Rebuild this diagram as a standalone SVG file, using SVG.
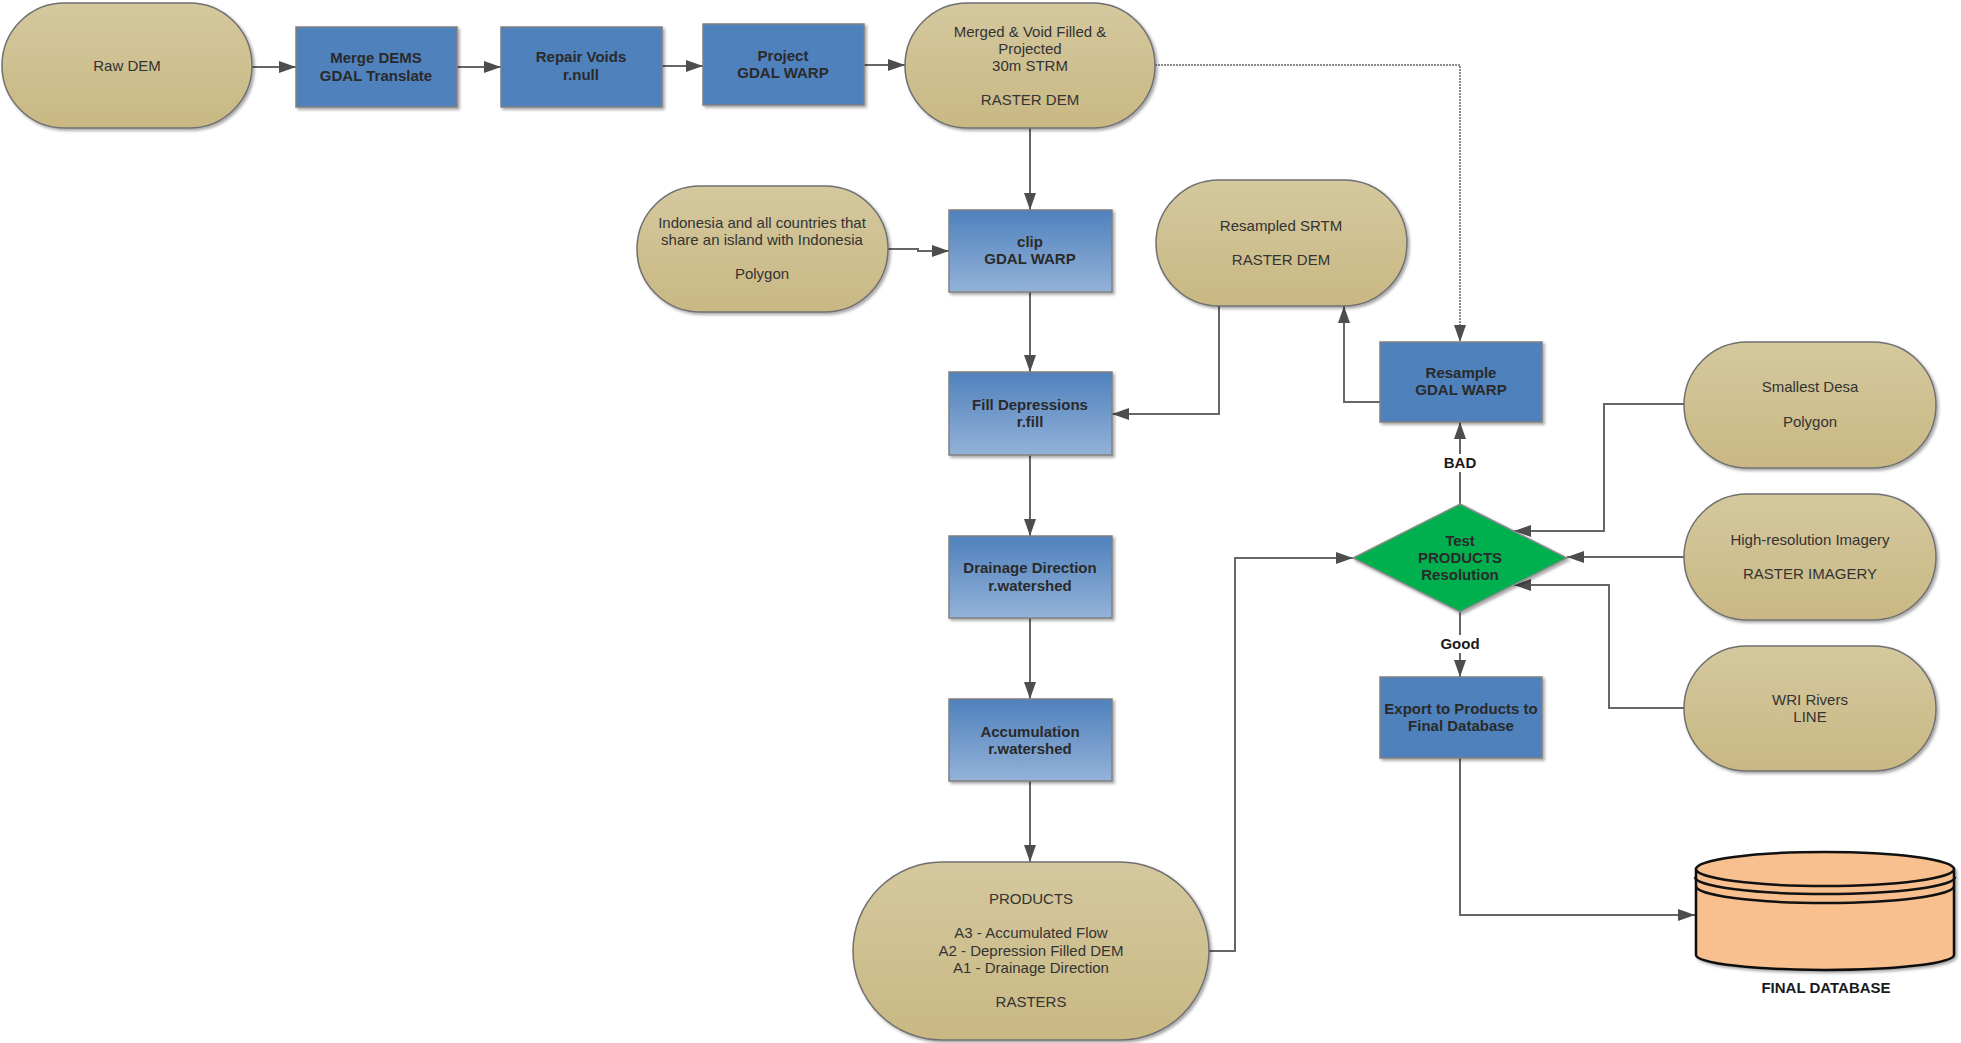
<svg xmlns="http://www.w3.org/2000/svg" width="1961" height="1043" viewBox="0 0 1961 1043">
<style>
.pill{fill:url(#tan);stroke:#707070;stroke-width:1.5;filter:url(#sh)}
.box{fill:#4f81bd;stroke:#808080;stroke-width:1.5;filter:url(#sh)}
.boxg{fill:url(#blueg);stroke:#808080;stroke-width:1.5;filter:url(#sh)}
.t{font-family:"Liberation Sans",Arial,sans-serif;font-size:15px;fill:#333;text-anchor:middle}
.b{font-weight:bold;fill:#2a2a2a}
.conn{fill:none;stroke:#666;stroke-width:2;marker-end:url(#arr)}
.dot{fill:none;stroke:#8c8c8c;stroke-width:2;stroke-dasharray:2 1;marker-end:url(#arr)}
.lbl{font-family:"Liberation Sans",Arial,sans-serif;font-size:15px;font-weight:bold;fill:#1a1a1a;text-anchor:middle}
</style>
<defs>
<linearGradient id="tan" x1="0" y1="0" x2="0" y2="1"><stop offset="0" stop-color="#d4c89e"/><stop offset="1" stop-color="#c9b883"/></linearGradient>
<linearGradient id="blueg" x1="0" y1="0" x2="0" y2="1"><stop offset="0" stop-color="#4f81bd"/><stop offset="1" stop-color="#93b2d8"/></linearGradient>
<filter id="sh" x="-10%" y="-10%" width="125%" height="130%"><feDropShadow dx="2" dy="2" stdDeviation="1.5" flood-color="#000" flood-opacity="0.35"/></filter>
<marker id="arr" viewBox="0 0 17 12" refX="17" refY="6" markerWidth="17" markerHeight="12" markerUnits="userSpaceOnUse" orient="auto"><path d="M0,0 L17,6 L0,12 z" fill="#4d4d4d"/></marker>
</defs>

<g id="connectors">
<path class="conn" d="M252,67 L296,67"/>
<path class="conn" d="M457,67 L501,67"/>
<path class="conn" d="M662,66 L703,66"/>
<path class="conn" d="M864,65 L905,65"/>
<path class="conn" d="M1030,128 L1030,210"/>
<path class="dot" d="M1155,65 L1460,65 L1460,342"/>
<path class="conn" d="M888,249 L918,249 L918,251 L949,251"/>
<path class="conn" d="M1030,292 L1030,372"/>
<path class="conn" d="M1219,306 L1219,414 L1112,414"/>
<path class="conn" d="M1380,402 L1344,402 L1344,306"/>
<path class="conn" d="M1030,455 L1030,536"/>
<path class="conn" d="M1030,618 L1030,699"/>
<path class="conn" d="M1030,781 L1030,862"/>
<path class="conn" d="M1209,951 L1235,951 L1235,558 L1353,558"/>
<path class="conn" d="M1460,504 L1460,422"/>
<path class="conn" d="M1460,612 L1460,677"/>
<path class="conn" d="M1684,404 L1604,404 L1604,531 L1514,531"/>
<path class="conn" d="M1684,557 L1567,557"/>
<path class="conn" d="M1684,708 L1609,708 L1609,585 L1514,585"/>
<path class="conn" d="M1460,758 L1460,915 L1695,915"/>
<rect x="1438" y="454" width="44" height="18" fill="#fff"/>
<text class="lbl" x="1460" y="468">BAD</text>
<rect x="1436" y="635" width="48" height="18" fill="#fff"/>
<text class="lbl" x="1460" y="649">Good</text>
</g>

<g id="raw-dem">
<rect class="pill" x="2" y="3" width="250" height="125" rx="62.5"/>
<text class="t" x="127" y="71">Raw DEM</text>
</g>
<g id="merge-dems">
<rect class="box" x="296" y="27" width="161" height="80"/>
<text class="t b" x="376" y="63">Merge DEMS</text>
<text class="t b" x="376" y="81">GDAL Translate</text>
</g>
<g id="repair-voids">
<rect class="box" x="501" y="27" width="161" height="80"/>
<text class="t b" x="581" y="62">Repair Voids</text>
<text class="t b" x="581" y="80">r.null</text>
</g>
<g id="project">
<rect class="box" x="703" y="24" width="161" height="81"/>
<text class="t b" x="783" y="61">Project</text>
<text class="t b" x="783" y="78">GDAL WARP</text>
</g>
<g id="merged-dem">
<rect class="pill" x="905" y="3" width="250" height="125" rx="62.5"/>
<text class="t" x="1030" y="37">Merged &amp; Void Filled &amp;</text>
<text class="t" x="1030" y="54">Projected</text>
<text class="t" x="1030" y="71">30m STRM</text>
<text class="t" x="1030" y="105">RASTER DEM</text>
</g>
<g id="indonesia">
<rect class="pill" x="637" y="186" width="251" height="126" rx="63"/>
<text class="t" x="762" y="228">Indonesia and all countries that</text>
<text class="t" x="762" y="245">share an island with Indonesia</text>
<text class="t" x="762" y="279">Polygon</text>
</g>
<g id="clip">
<rect class="boxg" x="949" y="210" width="163" height="82"/>
<text class="t b" x="1030" y="247">clip</text>
<text class="t b" x="1030" y="264">GDAL WARP</text>
</g>
<g id="resampled-srtm">
<rect class="pill" x="1156" y="180" width="251" height="126" rx="63"/>
<text class="t" x="1281" y="231">Resampled SRTM</text>
<text class="t" x="1281" y="265">RASTER DEM</text>
</g>
<g id="fill-depressions">
<rect class="boxg" x="949" y="372" width="163" height="83"/>
<text class="t b" x="1030" y="410">Fill Depressions</text>
<text class="t b" x="1030" y="427">r.fill</text>
</g>
<g id="resample">
<rect class="box" x="1380" y="342" width="162" height="80"/>
<text class="t b" x="1461" y="378">Resample</text>
<text class="t b" x="1461" y="395">GDAL WARP</text>
</g>
<g id="smallest-desa">
<rect class="pill" x="1684" y="342" width="252" height="126" rx="63"/>
<text class="t" x="1810" y="392">Smallest Desa</text>
<text class="t" x="1810" y="427">Polygon</text>
</g>
<g id="test">
<polygon points="1460,504 1567,558 1460,612 1353,558" fill="#00b050" stroke="#8c8c8c" stroke-width="1.5" filter="url(#sh)"/>
<text class="t b" x="1460" y="546">Test</text>
<text class="t b" x="1460" y="563">PRODUCTS</text>
<text class="t b" x="1460" y="580">Resolution</text>
</g>
<g id="high-res">
<rect class="pill" x="1684" y="494" width="252" height="126" rx="63"/>
<text class="t" x="1810" y="545">High-resolution Imagery</text>
<text class="t" x="1810" y="579">RASTER IMAGERY</text>
</g>
<g id="drainage">
<rect class="boxg" x="949" y="536" width="163" height="82"/>
<text class="t b" x="1030" y="573">Drainage Direction</text>
<text class="t b" x="1030" y="591">r.watershed</text>
</g>
<g id="export">
<rect class="box" x="1380" y="677" width="162" height="81"/>
<text class="t b" x="1461" y="714">Export to Products to</text>
<text class="t b" x="1461" y="731">Final Database</text>
</g>
<g id="wri-rivers">
<rect class="pill" x="1684" y="646" width="252" height="125" rx="62.5"/>
<text class="t" x="1810" y="705">WRI Rivers</text>
<text class="t" x="1810" y="722">LINE</text>
</g>
<g id="accumulation">
<rect class="boxg" x="949" y="699" width="163" height="82"/>
<text class="t b" x="1030" y="737">Accumulation</text>
<text class="t b" x="1030" y="754">r.watershed</text>
</g>
<g id="products">
<rect class="pill" x="853" y="862" width="356" height="178" rx="89"/>
<text class="t" x="1031" y="904">PRODUCTS</text>
<text class="t" x="1031" y="938">A3 - Accumulated Flow</text>
<text class="t" x="1031" y="956">A2 - Depression Filled DEM</text>
<text class="t" x="1031" y="973">A1 - Drainage Direction</text>
<text class="t" x="1031" y="1007">RASTERS</text>
</g>
<g id="final-database">
<path d="M1696,869 L1696,955 A129,15 0 0 0 1954,955 L1954,869 Z" fill="#f9c08f" stroke="#111" stroke-width="2.5" filter="url(#sh)"/>
<ellipse cx="1825" cy="869" rx="129" ry="17" fill="#f9c08f" stroke="#111" stroke-width="2.5"/>
<path d="M1695,877 A130,17 0 0 0 1955,877" fill="none" stroke="#111" stroke-width="2.5"/>
<path d="M1696,886 A129,17 0 0 0 1954,886" fill="none" stroke="#111" stroke-width="2.5"/>
<text class="lbl" x="1826" y="993" fill="#333">FINAL DATABASE</text>
</g>
</svg>
